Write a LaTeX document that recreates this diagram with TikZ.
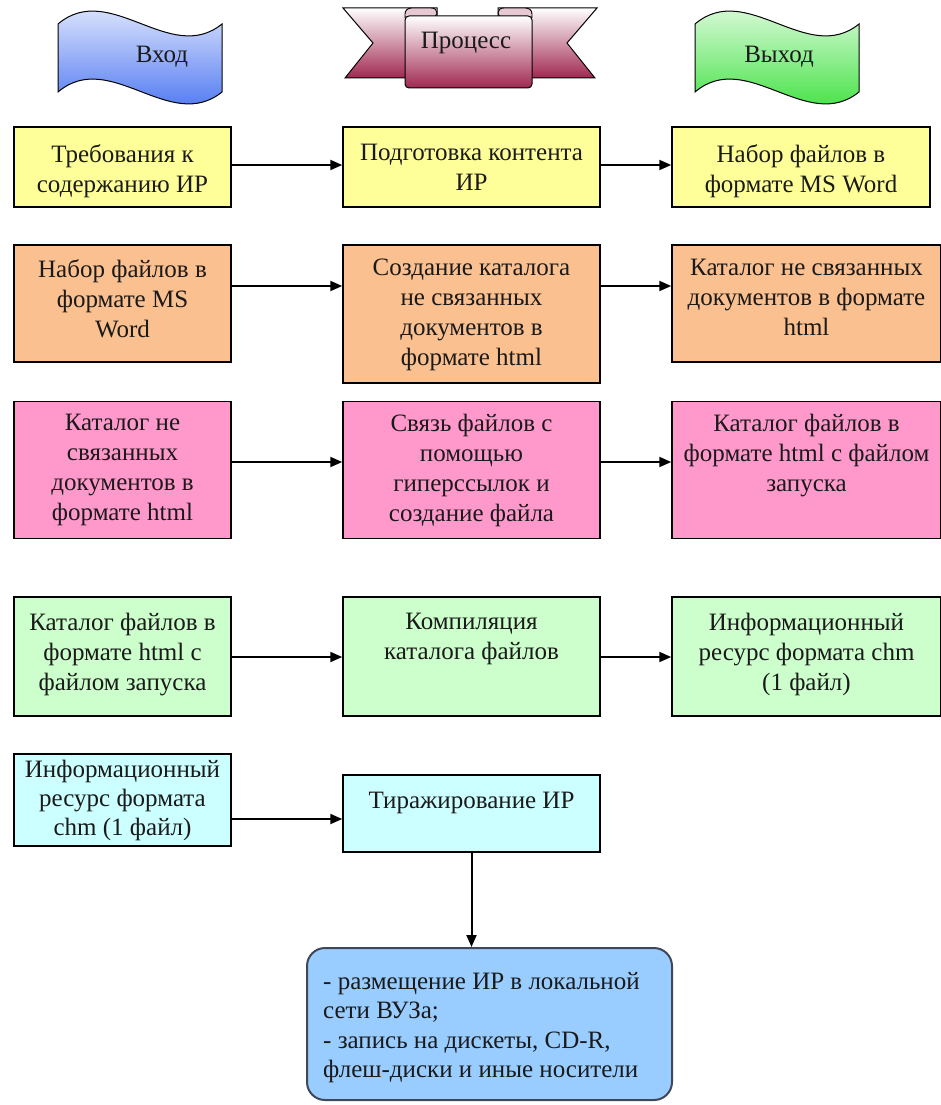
\documentclass[tikz,border=0pt]{standalone}
\usepackage{fontspec}
\setmainfont{Liberation Serif}
\usetikzlibrary{arrows.meta}
\definecolor{cyel}{HTML}{FFFF99}
\definecolor{corg}{HTML}{FAC090}
\definecolor{cpnk}{HTML}{FF99CC}
\definecolor{cgrn}{HTML}{CCFFCC}
\definecolor{ccyn}{HTML}{CCFFFF}
\definecolor{cblu}{HTML}{99CCFF}
\definecolor{flagblue}{HTML}{3060F0}
\definecolor{flaggreen}{HTML}{22DD22}
\definecolor{flagred}{HTML}{A02850}
\definecolor{bordblu}{HTML}{404858}
\definecolor{txtcol}{HTML}{1A1A1A}
\tikzset{
  box/.style={draw=black, line width=1.5pt, inner sep=0pt},
  txt/.style={anchor=north, align=center, inner sep=0pt, text=txtcol, font=\fontsize{25}{30}\selectfont},
  conn/.style={line width=2pt, -{Triangle[length=12pt,width=10pt]}},
  flagline/.style={draw=black, line width=1pt},
  head/.style={inner sep=0pt, text=txtcol, font=\fontsize{25}{30}\selectfont},
}
\begin{document}
\begin{tikzpicture}[x=1pt,y=-1pt]
\useasboundingbox (0,0) rectangle (940,1105);
% ---------- banners ----------
\shade[flagline, top color=white, bottom color=flagblue]
  (58,24) .. controls (110,-20) and (170,66) .. (222,24)
  -- (222,92) .. controls (170,134) and (110,48) .. (58,92) -- cycle;
\node[head] (hin) at (162,57) {Вход};

\shade[flagline, top color=white, bottom color=flaggreen]
  (695,24) .. controls (747,-20) and (807,66) .. (859,24)
  -- (859,92) .. controls (807,134) and (747,48) .. (695,92) -- cycle;
\node[head] (hout) at (779,57) {Выход};

% Process ribbon
\shade[flagline, top color=white, bottom color=flagred]
  (343,8) -- (437,8) -- (437,78) -- (345,78) -- (373,43) -- cycle;
\shade[flagline, top color=white, bottom color=flagred]
  (597,8) -- (498,8) -- (498,78) -- (595,78) -- (567,43) -- cycle;
\fill[flagred!25, draw=black, line width=0.9pt]
  (405,18) -- (405,14) .. controls (405,10) and (408,8) .. (412,8) -- (431,8)
  .. controls (435,8) and (437,10) .. (437,13) .. controls (437,16) and (435,17) .. (431,17) -- (405,17);
\fill[flagred!25, draw=black, line width=0.9pt]
  (532,18) -- (532,14) .. controls (532,10) and (529,8) .. (525,8) -- (504,8)
  .. controls (500,8) and (498,10) .. (498,13) .. controls (498,16) and (500,17) .. (504,17) -- (532,17);
\shade[flagline, top color=white, bottom color=flagred, rounded corners=4pt]
  (405,16) -- (405,88) -- (532,88) -- (532,16) -- cycle;
\node[head] (hproc) at (466,43) {Процесс};

% ---------- row 1 ----------
\node[box, fill=cyel, minimum width=217pt, minimum height=80pt] (a1) at (122.5,167) {};
\node[box, fill=cyel, minimum width=257pt, minimum height=80pt] (a2) at (471.5,167) {};
\node[box, fill=cyel, minimum width=258pt, minimum height=80pt] (a3) at (801,167) {};
\node[txt] (ta1) at (122.5,144) {Требования к\\содержанию ИР};
\node[txt] (ta2) at (471.5,144) {Подготовка контента\\ИР};
\node[txt] (ta3) at (801,144) {Набор файлов в\\формате MS Word};
\draw[conn] (a1.east |- 0,165) -- (a2.west |- 0,165);
\draw[conn] (a2.east |- 0,165) -- (a3.west |- 0,165);

% ---------- row 2 ----------
\node[box, fill=corg, minimum width=217pt, minimum height=117pt] (b1) at (122.5,303.5) {};
\node[box, fill=corg, minimum width=257pt, minimum height=138pt] (b2) at (471.5,314) {};
\node[box, fill=corg, minimum width=269pt, minimum height=117pt] (b3) at (806.5,303.5) {};
\node[txt] (tb1) at (122.5,259) {Набор файлов в\\формате MS\\Word};
\node[txt] (tb2) at (471.5,259) {Создание каталога\\не связанных\\документов в\\формате html};
\node[txt] (tb3) at (806.5,259) {Каталог не связанных\\документов в формате\\html};
\draw[conn] (b1.east |- 0,286) -- (b2.west |- 0,286);
\draw[conn] (b2.east |- 0,286) -- (b3.west |- 0,286);

% ---------- row 3 ----------
\node[box, fill=cpnk, minimum width=217pt, minimum height=137pt] (c1) at (122.5,470) {};
\node[box, fill=cpnk, minimum width=257pt, minimum height=137pt] (c2) at (471.5,470) {};
\node[box, fill=cpnk, minimum width=269pt, minimum height=137pt] (c3) at (806.5,470) {};
\node[txt] (tc1) at (122.5,414) {Каталог не\\связанных\\документов в\\формате html};
\node[txt] (tc2) at (471.5,414) {Связь файлов с\\помощью\\гиперссылок и\\создание файла};
\node[txt] (tc3) at (806.5,414) {Каталог файлов в\\формате html с файлом\\запуска};
\draw[conn] (c1.east |- 0,462) -- (c2.west |- 0,462);
\draw[conn] (c2.east |- 0,462) -- (c3.west |- 0,462);

% ---------- row 4 ----------
\node[box, fill=cgrn, minimum width=217pt, minimum height=119pt] (d1) at (122.5,656.5) {};
\node[box, fill=cgrn, minimum width=257pt, minimum height=119pt] (d2) at (471.5,656.5) {};
\node[box, fill=cgrn, minimum width=269pt, minimum height=119pt] (d3) at (806.5,656.5) {};
\node[txt] (td1) at (122.5,613) {Каталог файлов в\\формате html с\\файлом запуска};
\node[txt] (td2) at (471.5,613) {Компиляция\\каталога файлов};
\node[txt] (td3) at (806.5,613) {Информационный\\ресурс формата chm\\(1 файл)};
\draw[conn] (d1.east |- 0,657) -- (d2.west |- 0,657);
\draw[conn] (d2.east |- 0,657) -- (d3.west |- 0,657);

% ---------- row 5 ----------
\node[box, fill=ccyn, minimum width=217pt, minimum height=92pt] (e1) at (122.5,800) {};
\node[box, fill=ccyn, minimum width=257pt, minimum height=77pt] (e2) at (471.5,813.5) {};
\node[txt, font=\fontsize{25}{29}\selectfont] (te1) at (122.5,760) {Информационный\\ресурс формата\\chm (1 файл)};
\node[txt] (te2) at (471.5,792) {Тиражирование ИР};
\draw[conn] (e1.east |- 0,819) -- (e2.west |- 0,819);

% ---------- result ----------
\node[draw=bordblu, line width=2pt, fill=cblu, rounded corners=18pt, inner sep=0pt,
      minimum width=365pt, minimum height=152pt] (f) at (489.5,1024) {};
\node[anchor=north west, align=left, inner sep=0pt, text=txtcol, font=\fontsize{25}{29.5}\selectfont] (tf) at (323,972)
  {- размещение ИР в локальной\\сети ВУЗа;\\- запись на дискеты, CD-R,\\флеш-диски и иные носители};
\draw[conn] (e2.south) -- (e2.south |- f.north);
\end{tikzpicture}
\end{document}
